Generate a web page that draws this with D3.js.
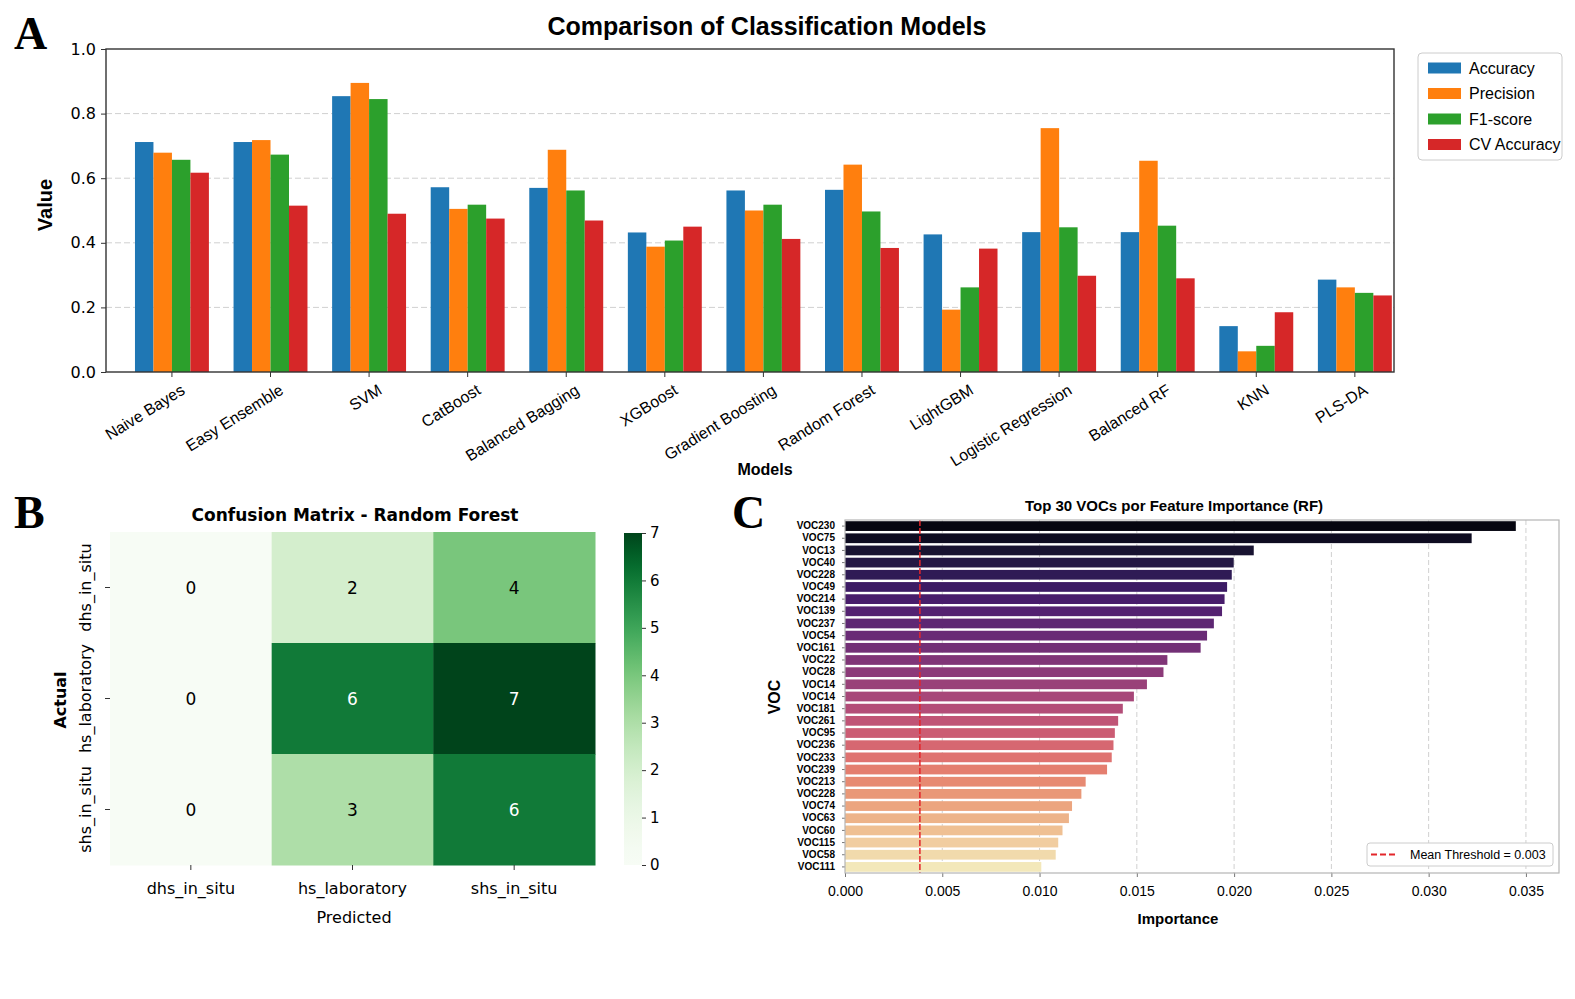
<!DOCTYPE html>
<html>
<head>
<meta charset="utf-8">
<script src="https://cdn.jsdelivr.net/npm/d3@7"></script>
<style>
  body { margin: 0; background: #fff; }
  text { font-family: "Liberation Sans", Arial, sans-serif; fill: #000; }
</style>
</head>
<body>
<svg id="fig" width="1575" height="999"></svg>
<script>
// ---------- data ----------
const models = ["Naive Bayes", "Easy Ensemble", "SVM", "CatBoost", "Balanced Bagging", "XGBoost",
  "Gradient Boosting", "Random Forest", "LightGBM", "Logistic Regression", "Balanced RF", "KNN", "PLS-DA"];
const metrics = ["Accuracy", "Precision", "F1-score", "CV Accuracy"];
const accuracy   = [0.712, 0.712, 0.854, 0.572, 0.570, 0.432, 0.562, 0.564, 0.426, 0.433, 0.433, 0.142, 0.286];
const precision  = [0.679, 0.718, 0.895, 0.505, 0.688, 0.388, 0.500, 0.642, 0.193, 0.755, 0.654, 0.064, 0.262];
const f1Score    = [0.657, 0.673, 0.845, 0.518, 0.562, 0.407, 0.518, 0.497, 0.262, 0.448, 0.453, 0.081, 0.245];
const cvAccuracy = [0.617, 0.515, 0.490, 0.475, 0.469, 0.450, 0.412, 0.384, 0.382, 0.298, 0.290, 0.185, 0.237];
const valueTicks = [0, 0.2, 0.4, 0.6, 0.8, 1.0];

const cmClasses = ["dhs_in_situ", "hs_laboratory", "shs_in_situ"];
const cmValues = [[0, 2, 4], [0, 6, 7], [0, 3, 6]];   // rows = actual, cols = predicted
const cbTicks = [0, 1, 2, 3, 4, 5, 6, 7];

const vocNames = ["VOC230", "VOC75", "VOC13", "VOC40", "VOC228", "VOC49", "VOC214", "VOC139", "VOC237",
  "VOC54", "VOC161", "VOC22", "VOC28", "VOC14", "VOC14", "VOC181", "VOC261", "VOC95", "VOC236", "VOC233",
  "VOC239", "VOC213", "VOC228", "VOC74", "VOC63", "VOC60", "VOC115", "VOC58", "VOC111"];
const vocImportance = [0.03448, 0.03221, 0.02101, 0.01998, 0.01988, 0.01964, 0.01951, 0.01938, 0.01896,
  0.01861, 0.01828, 0.01657, 0.01637, 0.01552, 0.01485, 0.01428, 0.01404, 0.01387, 0.01380, 0.01371,
  0.01347, 0.01237, 0.01215, 0.01167, 0.01151, 0.01118, 0.01096, 0.01083, 0.01009];
const meanThreshold = 0.00385;
const importanceTicks = [0, 0.005, 0.01, 0.015, 0.02, 0.025, 0.03, 0.035];

const metricColors = ["#1f77b4", "#ff7f0e", "#2ca02c", "#d62728"];

const svg = d3.select("#fig");
svg.append("rect").attr("width", 1575).attr("height", 999).attr("fill", "#fff");

// panel letters
[["A", 14, 49], ["B", 14, 528], ["C", 732, 528]].forEach(([t, x, y]) => {
  svg.append("text").attr("x", x).attr("y", y)
    .style("font-family", "'Liberation Serif', 'DejaVu Serif', serif")
    .style("font-weight", "bold").style("font-size", "46px").text(t);
});

// =============== A: grouped bars ===============
const aBox = { left: 106, right: 1394, top: 49, bottom: 372 };
const x0 = d3.scaleBand().domain(models).range([aBox.left, aBox.right])
  .paddingInner(0.25).paddingOuter(0.158).align(0.93);
const x1 = d3.scaleBand().domain(metrics).range([0, x0.bandwidth()]);
const yA = d3.scaleLinear().domain([0, 1]).range([aBox.bottom, aBox.top]);
const seriesA = [accuracy, precision, f1Score, cvAccuracy];

const gA = svg.append("g");

// dashed grid
gA.append("g").selectAll("line").data(valueTicks.slice(1, -1)).join("line")
  .attr("x1", aBox.left).attr("x2", aBox.right)
  .attr("y1", d => yA(d)).attr("y2", d => yA(d))
  .attr("stroke", "#d0d0d0").attr("stroke-dasharray", "6,3");

gA.append("g").selectAll("g").data(models).join("g")
  .attr("transform", m => `translate(${x0(m)},0)`)
  .selectAll("rect")
  .data((m, i) => metrics.map((k, j) => ({ metric: k, j: j, value: seriesA[j][i] })))
  .join("rect")
  .attr("x", d => x1(d.metric))
  .attr("y", d => yA(d.value))
  .attr("width", x1.bandwidth())
  .attr("height", d => yA(0) - yA(d.value))
  .attr("fill", d => metricColors[d.j]);

// axes
const axA = gA.append("g").attr("transform", `translate(0,${aBox.bottom})`)
  .call(d3.axisBottom(x0).tickSize(5).tickSizeOuter(0));
axA.select(".domain").remove();
axA.selectAll(".tick line").attr("stroke", "#333");
axA.selectAll(".tick text")
  .attr("x", 0).attr("y", 0).attr("dy", 0)
  .attr("text-anchor", "end")
  .attr("transform", "translate(14,21) rotate(-32)")
  .style("font-size", "16px");

const ayA = gA.append("g").attr("transform", `translate(${aBox.left},0)`)
  .call(d3.axisLeft(yA).tickValues(valueTicks).tickFormat(d3.format(".1f")).tickSize(5).tickPadding(5));
ayA.select(".domain").remove();
ayA.selectAll(".tick line").attr("stroke", "#333");
ayA.selectAll(".tick text").style("font-family", "'DejaVu Sans', sans-serif").style("font-size", "16px");

gA.append("rect").attr("x", aBox.left).attr("y", aBox.top)
  .attr("width", aBox.right - aBox.left).attr("height", aBox.bottom - aBox.top)
  .attr("fill", "none").attr("stroke", "#333").attr("stroke-width", 1.4);

gA.append("text").attr("x", 767).attr("y", 35).attr("text-anchor", "middle")
  .style("font-weight", "bold").style("font-size", "25px").text("Comparison of Classification Models");
gA.append("text").attr("transform", "translate(52,205) rotate(-90)").attr("text-anchor", "middle")
  .style("font-weight", "bold").style("font-size", "20px").text("Value");
gA.append("text").attr("x", 765).attr("y", 475).attr("text-anchor", "middle")
  .style("font-weight", "bold").style("font-size", "16px").text("Models");

// legend
const legA = gA.append("g");
legA.append("rect").attr("x", 1418).attr("y", 53).attr("width", 144).attr("height", 107).attr("rx", 4)
  .attr("fill", "#fff").attr("stroke", "#cccccc");
metrics.forEach((m, i) => {
  const cy = 68 + i * 25.5;
  legA.append("rect").attr("x", 1428).attr("y", cy - 5.5).attr("width", 33).attr("height", 11)
    .attr("fill", metricColors[i]);
  legA.append("text").attr("x", 1469).attr("y", cy).attr("dy", "0.36em")
    .style("font-size", "16px").text(m);
});

// =============== B: confusion matrix ===============
const bBox = { left: 110, right: 595, top: 532, bottom: 865 };
const xB = d3.scaleBand().domain(cmClasses).range([bBox.left, bBox.right]);
const yB = d3.scaleBand().domain(cmClasses).range([bBox.top, bBox.bottom]);
// slightly lighter ramp than linear Greens, as in the picture
const cmColor = d3.scaleSequentialPow(d3.interpolateGreens).exponent(1.3).domain([0, 7]);
const cells = [];
cmValues.forEach((row, r) => row.forEach((v, c) => cells.push({ actual: cmClasses[r], pred: cmClasses[c], v: v })));

const gB = svg.append("g");
gB.selectAll("rect.cell").data(cells).join("rect").attr("class", "cell")
  .attr("x", d => xB(d.pred)).attr("y", d => yB(d.actual))
  .attr("width", xB.bandwidth() + 0.5).attr("height", yB.bandwidth() + 0.5)
  .attr("fill", d => cmColor(d.v));
gB.selectAll("text.val").data(cells).join("text").attr("class", "val")
  .attr("x", d => xB(d.pred) + xB.bandwidth() / 2)
  .attr("y", d => yB(d.actual) + yB.bandwidth() / 2)
  .attr("dy", "0.36em").attr("text-anchor", "middle")
  .style("font-family", "'DejaVu Sans', sans-serif").style("font-size", "17px")
  .style("fill", d => d3.lab(cmColor(d.v)).l < 55 ? "#fff" : "#000")
  .text(d => d.v);

const axB = gB.append("g").attr("transform", `translate(0,${bBox.bottom})`)
  .call(d3.axisBottom(xB).tickSize(5).tickPadding(13));
axB.select(".domain").remove();
axB.selectAll(".tick line").attr("stroke", "#333");
axB.selectAll(".tick text").style("font-family", "'DejaVu Sans', sans-serif").style("font-size", "16px");

const ayB = gB.append("g").attr("transform", `translate(${bBox.left},0)`)
  .call(d3.axisLeft(yB).tickSize(5));
ayB.select(".domain").remove();
ayB.selectAll(".tick line").attr("stroke", "#333");
ayB.selectAll(".tick text")
  .attr("x", 0).attr("dy", 0).attr("text-anchor", "middle")
  .attr("transform", "translate(-19,0) rotate(-90)")
  .style("font-family", "'DejaVu Sans', sans-serif").style("font-size", "16px");

gB.append("text").attr("x", 355).attr("y", 521).attr("text-anchor", "middle")
  .style("font-family", "'DejaVu Sans', sans-serif").style("font-weight", "bold").style("font-size", "17px")
  .text("Confusion Matrix - Random Forest");
gB.append("text").attr("x", 354).attr("y", 923).attr("text-anchor", "middle")
  .style("font-family", "'DejaVu Sans', sans-serif").style("font-size", "16px").text("Predicted");
gB.append("text").attr("transform", "translate(66,700) rotate(-90)").attr("text-anchor", "middle")
  .style("font-family", "'DejaVu Sans', sans-serif").style("font-weight", "bold").style("font-size", "16px")
  .text("Actual");

// colorbar
const cb = { x: 624, w: 18, top: 533, bottom: 865 };
const yCb = d3.scaleLinear().domain([0, 7]).range([cb.bottom, cb.top]);
const grad = svg.append("defs").append("linearGradient").attr("id", "greensGrad")
  .attr("x1", 0).attr("y1", 1).attr("x2", 0).attr("y2", 0);
d3.range(0, 1.0001, 0.05).forEach(t => {
  grad.append("stop").attr("offset", t).attr("stop-color", cmColor(t * 7));
});
gB.append("rect").attr("x", cb.x).attr("y", cb.top).attr("width", cb.w).attr("height", cb.bottom - cb.top)
  .attr("fill", "url(#greensGrad)");
const acb = gB.append("g").attr("transform", `translate(${cb.x + cb.w},0)`)
  .call(d3.axisRight(yCb).tickValues(cbTicks).tickFormat(d3.format("d")).tickSize(4).tickPadding(4));
acb.select(".domain").remove();
acb.selectAll(".tick line").attr("stroke", "#333");
acb.selectAll(".tick text").style("font-family", "'DejaVu Sans', sans-serif").style("font-size", "15px");

// =============== C: feature importance ===============
const cBox = { left: 845, right: 1559, top: 520, bottom: 873 };
const xC = d3.scaleLinear().domain([0, 0.0367]).range([cBox.left, cBox.right]);
const yC = d3.scaleBand().domain(d3.range(vocNames.length)).range([cBox.top, cBox.bottom])
  .paddingInner(0.2).paddingOuter(0.1);
const nV = vocNames.length;
// seaborn style: magma palette, desaturated (saturation 0.75)
const vocColor = i => {
  const c = d3.hsl(d3.interpolateMagma((i + 1) / (nV + 1)));
  c.s *= 0.75;
  return c.formatHex();
};

const gC = svg.append("g");
gC.append("g").selectAll("line").data(importanceTicks.slice(1)).join("line")
  .attr("x1", d => xC(d)).attr("x2", d => xC(d))
  .attr("y1", cBox.top).attr("y2", cBox.bottom)
  .attr("stroke", "#d0d0d0").attr("stroke-dasharray", "5,3");

gC.selectAll("rect.voc").data(vocImportance).join("rect").attr("class", "voc")
  .attr("x", xC(0)).attr("y", (d, i) => yC(i))
  .attr("width", d => xC(d) - xC(0)).attr("height", yC.bandwidth())
  .attr("fill", (d, i) => vocColor(i));

gC.append("line").attr("x1", xC(meanThreshold)).attr("x2", xC(meanThreshold))
  .attr("y1", cBox.top).attr("y2", cBox.bottom)
  .attr("stroke", "#e3262b").attr("stroke-width", 1.5).attr("stroke-dasharray", "6,2");

const axC = gC.append("g").attr("transform", `translate(0,${cBox.bottom})`)
  .call(d3.axisBottom(xC).tickValues(importanceTicks).tickFormat(d3.format(".3f")).tickSize(4).tickPadding(9));
axC.select(".domain").remove();
axC.selectAll(".tick line").attr("stroke", "#777");
axC.selectAll(".tick text").style("font-size", "14px");

const ayC = gC.append("g").attr("transform", `translate(${cBox.left},0)`)
  .call(d3.axisLeft(yC).tickFormat(i => vocNames[i]).tickSize(3).tickPadding(7));
ayC.select(".domain").remove();
ayC.selectAll(".tick line").attr("stroke", "#777");
ayC.selectAll(".tick text").style("font-size", "10px").style("font-weight", "bold");

gC.append("rect").attr("x", cBox.left).attr("y", cBox.top)
  .attr("width", cBox.right - cBox.left).attr("height", cBox.bottom - cBox.top)
  .attr("fill", "none").attr("stroke", "#b5b5b5").attr("stroke-width", 1.2);

gC.append("text").attr("x", 1174).attr("y", 511).attr("text-anchor", "middle")
  .style("font-weight", "bold").style("font-size", "15px").text("Top 30 VOCs por Feature Importance (RF)");
gC.append("text").attr("x", 1178).attr("y", 924).attr("text-anchor", "middle")
  .style("font-weight", "bold").style("font-size", "15px").text("Importance");
gC.append("text").attr("transform", "translate(780,697) rotate(-90)").attr("text-anchor", "middle")
  .style("font-weight", "bold").style("font-size", "16px").text("VOC");

// legend for threshold line
const legC = gC.append("g");
legC.append("rect").attr("x", 1367).attr("y", 843).attr("width", 186).attr("height", 23).attr("rx", 3)
  .attr("fill", "#fff").attr("stroke", "#cccccc");
legC.append("line").attr("x1", 1371).attr("x2", 1397).attr("y1", 854.5).attr("y2", 854.5)
  .attr("stroke", "#e3262b").attr("stroke-width", 2).attr("stroke-dasharray", "6,3");
legC.append("text").attr("x", 1410).attr("y", 854.5).attr("dy", "0.36em").style("font-size", "12.5px")
  .text("Mean Threshold = " + (Math.floor(meanThreshold * 1000) / 1000).toFixed(3));
</script>
</body>
</html>
